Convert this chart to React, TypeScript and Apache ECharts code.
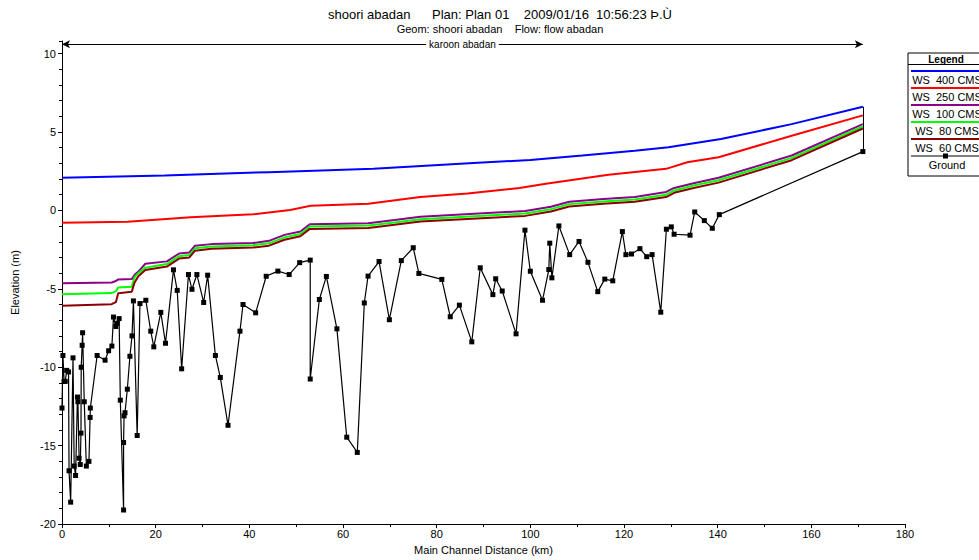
import React, { useEffect, useRef } from "react";
import * as echarts from "echarts";

type P = [number, number];

const NB = "\u00a0";
const titleText = `shoori abadan${NB.repeat(6)}Plan: Plan 01${NB.repeat(4)}2009/01/16${NB.repeat(2)}10:56:23 Þ.Ù`;
const subText = `Geom: shoori abadan${NB.repeat(4)}Flow: flow abadan`;
const reachName = "karoon abadan";
const xName = "Main Channel Distance (km)";
const yName = "Elevation (m)";
const yMajorTicks = [-20, -15, -10, -5, 0, 5, 10];

const legendNames = ["WS  400 CMS", "WS  250 CMS", "WS  100 CMS", "WS  80 CMS", "WS  60 CMS", "Ground"];
const legendColors = ["#0000ff", "#ff0000", "#8b008b", "#00ff00", "#8b0000", "#000000"];

const ws400: P[] = [
  [0, 2.08], [21.9, 2.23], [44.2, 2.44], [66.5, 2.65], [88.8, 3.03], [100, 3.22],
  [111.1, 3.5], [122.3, 3.81], [129.5, 4.02], [140.7, 4.55], [155.8, 5.5], [171, 6.61],
];

const ws250: P[] = [
  [0, -0.78], [14, -0.72], [27.5, -0.44], [40.8, -0.25], [48.7, 0.02], [53.1, 0.29],
  [65.4, 0.42], [76.5, 0.86], [86.6, 1.07], [97.7, 1.43], [103.3, 1.7], [116.7, 2.27],
  [129, 2.65], [133.5, 3.07], [140.2, 3.39], [155.8, 4.76], [171, 6.06],
];

const lowKm = [0, 10.6, 11.5, 12.0, 14.9, 15.5, 16.3, 17.8, 22.4, 25.0, 27.2, 28.4, 31.9, 40.8, 44.2, 47.5, 50.9, 52.9, 65.4, 71, 76.5, 98.9, 104.4, 108.3, 115.6, 122.3, 129, 130.7, 135.1, 140.2, 155.8, 171];
const ws100Elev = [-4.65, -4.6, -4.5, -4.4, -4.38, -4.1, -3.9, -3.4, -3.25, -2.75, -2.68, -2.25, -2.15, -2.08, -1.94, -1.56, -1.35, -0.88, -0.82, -0.61, -0.4, -0.04, 0.23, 0.55, 0.72, 0.86, 1.18, 1.43, 1.75, 2.08, 3.5, 5.5];
const ws80Elev = [-5.35, -5.27, -5.15, -4.92, -4.86, -4.25, -4.0, -3.65, -3.42, -2.92, -2.85, -2.42, -2.3, -2.22, -2.1, -1.72, -1.5, -1.03, -0.97, -0.77, -0.56, -0.2, 0.08, 0.4, 0.57, 0.7, 1.0, 1.27, 1.6, 1.92, 3.35, 5.35];
const ws60Elev = [-6.08, -5.98, -5.85, -5.28, -5.18, -4.6, -4.2, -3.8, -3.58, -3.07, -3.0, -2.57, -2.45, -2.37, -2.25, -1.87, -1.65, -1.18, -1.12, -0.92, -0.71, -0.35, -0.07, 0.25, 0.42, 0.55, 0.85, 1.12, 1.45, 1.77, 3.2, 5.22];

const ground: P[] = [
  [0, -12.6], [0.2, -9.25], [0.45, -10.9], [0.7, -10.9], [1.0, -10.2], [1.4, -10.3],
  [1.5, -16.6], [1.85, -18.6], [2.35, -9.4], [2.6, -16.3], [2.9, -16.9], [3.3, -11.9],
  [3.4, -12.2], [3.65, -15.8], [3.9, -16.2], [4.05, -14.2], [4.1, -10.0], [4.3, -8.6],
  [4.4, -7.8], [4.75, -12.2], [5.2, -16.3], [5.75, -16.0], [6.0, -13.2], [6.05, -12.6],
  [7.5, -9.25], [9.2, -9.55], [9.95, -8.95], [10.65, -8.65], [11.0, -6.8], [11.5, -7.4],
  [11.75, -7.2], [12.2, -6.9], [12.45, -12.1], [13.15, -19.1], [13.15, -14.8], [13.25, -13.1],
  [13.45, -12.9], [13.95, -11.4], [14.5, -9.3], [14.95, -8.0], [15.25, -5.77], [16.05, -14.35],
  [16.65, -5.94], [17.9, -5.73], [18.95, -7.7], [19.6, -8.7], [21.1, -6.5], [22.1, -8.47],
  [23.8, -3.79], [24.6, -5.1], [25.55, -10.1], [27.0, -4.09], [27.75, -5.03], [28.8, -4.09],
  [30.25, -5.87], [31.1, -4.13], [32.75, -9.25], [33.8, -10.65], [35.45, -13.7], [38.0, -7.7],
  [38.65, -6.0], [41.35, -6.53], [43.6, -4.2], [46.1, -3.87], [48.5, -4.09], [50.75, -3.33],
  [53.0, -3.17], [53.0, -10.75], [54.95, -5.68], [56.45, -4.21], [58.7, -7.55], [60.8, -14.46],
  [63.05, -15.43], [64.55, -5.9], [65.35, -4.19], [67.7, -3.26], [69.9, -6.97], [72.45, -3.2],
  [75.0, -2.38], [76.2, -4.02], [81.1, -4.4], [82.9, -6.78], [84.85, -6.04], [87.5, -8.38],
  [89.3, -3.66], [92.0, -5.37], [92.6, -4.36], [94.0, -5.14], [96.95, -7.87], [98.85, -1.26],
  [100.0, -3.88], [102.6, -5.73], [103.95, -3.77], [104.15, -2.09], [104.6, -4.3], [106.1, -0.99],
  [108.4, -2.82], [110.4, -1.98], [112.3, -3.31], [114.4, -5.18], [115.9, -4.38], [117.6, -4.49],
  [119.65, -1.35], [120.4, -2.82], [121.6, -2.78], [123.4, -2.44], [124.85, -2.95], [126.0, -2.82],
  [127.85, -6.49], [129.05, -1.2], [130.1, -1.05], [130.7, -1.52], [134.1, -1.58], [135.1, -0.1],
  [137.15, -0.65], [138.85, -1.14], [140.35, -0.27], [171.0, 3.75],
];

const reachStart = 0;
const reachEnd = 171;
const reachLevel = 10.6;

const FONT = "Liberation Sans, Arial, sans-serif";

export default function App() {
  const ref = useRef<HTMLDivElement>(null);
  useEffect(() => {
    if (!ref.current) return;
    const chart = echarts.init(ref.current, null, { renderer: "svg" });
    const zip = (xs: number[], ys: number[]) => xs.map((x, i) => [x, ys[i]]);
    const wsSeries = [
      { name: legendNames[0], data: ws400, color: legendColors[0] },
      { name: legendNames[1], data: ws250, color: legendColors[1] },
      { name: legendNames[2], data: zip(lowKm, ws100Elev), color: legendColors[2] },
      { name: legendNames[3], data: zip(lowKm, ws80Elev), color: legendColors[3] },
      { name: legendNames[4], data: zip(lowKm, ws60Elev), color: legendColors[4] },
    ].map((s) => ({
      type: "line",
      name: s.name,
      data: s.data,
      showSymbol: false,
      symbol: "none",
      lineStyle: { color: s.color, width: 2 },
      itemStyle: { color: s.color },
      z: 2,
    }));

    const lastGround = ground[ground.length - 1];
    const axisCommon = {
      splitLine: { show: false },
      nameTextStyle: { color: "#000", fontSize: 11, fontFamily: FONT },
    };
    const labelStyle = { color: "#000", fontSize: 11, fontFamily: FONT };

    const legendX = 908;
    const legendTop = 53;
    const legendW = 80;
    const rowH = 17;
    const graphics: any[] = [
      { type: "rect", shape: { x: legendX, y: legendTop, width: legendW, height: 123 }, style: { fill: "#fff", stroke: "#000", lineWidth: 1 }, z: 10 },
      { type: "text", x: legendX + 38, y: 59, style: { text: "Legend", font: `bold 10px ${FONT}`, fill: "#000", align: "center", verticalAlign: "middle" }, z: 11 },
      { type: "line", shape: { x1: legendX, y1: 64.5, x2: legendX + legendW, y2: 64.5 }, style: { stroke: "#000", lineWidth: 1 }, z: 11 },
    ];
    legendNames.forEach((n, i) => {
      const ly = 71 + i * rowH;
      graphics.push({ type: "line", shape: { x1: legendX + 3, y1: ly, x2: legendX + legendW, y2: ly }, style: { stroke: legendColors[i], lineWidth: i === 5 ? 1.2 : 2 }, z: 11 });
      if (i === 5) {
        graphics.push({ type: "rect", shape: { x: legendX + 35, y: ly - 2.5, width: 5, height: 5 }, style: { fill: "#000" }, z: 12 });
      }
      graphics.push({ type: "text", x: legendX + 39, y: ly + 9, style: { text: n, font: `11px ${FONT}`, fill: "#000", align: "center", verticalAlign: "middle" }, z: 11 });
    });

    chart.setOption({
      animation: false,
      backgroundColor: "#fff",
      title: {
        text: titleText,
        subtext: subText,
        left: 500,
        textAlign: "center",
        top: 8,
        itemGap: 2,
        padding: 0,
        textStyle: { fontSize: 13, fontWeight: "normal", color: "#000", fontFamily: FONT },
        subtextStyle: { fontSize: 11, color: "#000", fontFamily: FONT },
      },
      grid: { left: 62, right: 74, top: 41, bottom: 31, containLabel: false },
      xAxis: {
        type: "value",
        min: 0,
        max: 180,
        interval: 20,
        name: xName,
        nameLocation: "middle",
        nameGap: 19,
        ...axisCommon,
        axisLine: { show: true, onZero: false, lineStyle: { color: "#000", width: 1 } },
        axisTick: { show: true, length: 4, lineStyle: { color: "#000" } },
        minorTick: { show: true, splitNumber: 2, length: 3, lineStyle: { color: "#000" } },
        axisLabel: { ...labelStyle, margin: 4 },
      },
      yAxis: [
        {
          type: "value",
          min: -20,
          max: 10.8,
          interval: 5,
          name: yName,
          nameLocation: "middle",
          nameGap: 42,
          ...axisCommon,
          axisLine: { show: true, onZero: false, lineStyle: { color: "#000", width: 1 } },
          axisTick: { show: true, length: 4, customValues: yMajorTicks, lineStyle: { color: "#000" } },
          axisLabel: { ...labelStyle, customValues: yMajorTicks, margin: 6 },
        },
        {
          type: "value",
          min: -20,
          max: 10.8,
          interval: 1,
          position: "left",
          axisLine: { show: false, onZero: false },
          splitLine: { show: false },
          axisLabel: { show: false },
          axisTick: { show: true, length: 3, lineStyle: { color: "#000" } },
        },
      ],
      series: [
        ...wsSeries,
        {
          type: "line",
          name: legendNames[5],
          data: ground,
          symbol: "rect",
          symbolSize: 5,
          showAllSymbol: true,
          lineStyle: { color: "#000", width: 1.2 },
          itemStyle: { color: "#000" },
          z: 3,
          markLine: {
            silent: true,
            symbol: ["none", "none"],
            animation: false,
            lineStyle: { color: "#000", width: 1, type: "solid" },
            label: { show: false },
            data: [
              [{ coord: [lastGround[0], lastGround[1]] }, { coord: [lastGround[0], ws400[ws400.length - 1][1]] }],
              [{ coord: [reachStart, reachLevel - 0.3] }, { coord: [reachStart, reachLevel + 0.3] }],
              [{ coord: [reachEnd, reachLevel - 0.3] }, { coord: [reachEnd, reachLevel + 0.3] }],
              [
                { coord: [reachStart, reachLevel], symbol: "arrow", symbolSize: [6, 8] },
                { coord: [reachEnd, reachLevel], symbol: "arrow", symbolSize: [6, 8] },
              ],
            ],
          },
          markPoint: {
            silent: true,
            symbol: "rect",
            symbolSize: 1,
            itemStyle: { color: "transparent" },
            label: {
              show: true,
              position: "inside",
              formatter: reachName,
              color: "#000",
              fontSize: 10,
              fontFamily: FONT,
              backgroundColor: "#fff",
              padding: [1, 3],
            },
            data: [{ coord: [(reachStart + reachEnd) / 2, reachLevel] }],
          },
        },
      ],
      graphic: graphics,
    });
    return () => chart.dispose();
  }, []);
  return <div ref={ref} style={{ width: 979, height: 560, position: "absolute", left: 0, top: 0 }} />;
}
